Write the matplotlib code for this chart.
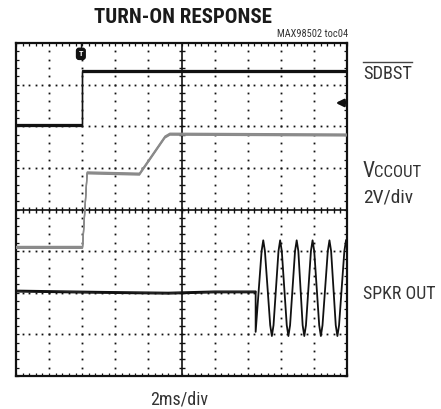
import numpy as np
import matplotlib
matplotlib.use("Agg")
import matplotlib.pyplot as plt
from matplotlib.transforms import offset_copy
from matplotlib.lines import Line2D

# ---------------- data (in screen divisions: x 0..10, y 0..8) ----------------
sdbst_x = [0.0, 1.98, 1.98, 10.0]
sdbst_y = [6.03, 6.03, 7.33, 7.33]

vcc_x = [0.0, 2.01, 2.15, 3.73, 4.50, 4.65, 10.0]
vcc_y = [3.09, 3.09, 4.88, 4.85, 5.74, 5.81, 5.79]

spkr_flat_x = [0.0, 2.5, 4.6, 6.0, 7.24]
spkr_flat_y = [2.04, 2.01, 1.99, 2.02, 2.02]

spkr_osc_x = [7.24, 7.24, 7.42, 7.47, 7.52, 7.68, 7.73, 7.78, 7.93, 7.98, 8.03,
              8.18, 8.23, 8.28, 8.43, 8.48, 8.53, 8.66, 8.71, 8.76, 8.91, 8.96,
              9.01, 9.16, 9.21, 9.26, 9.42, 9.47, 9.52, 9.66, 9.71, 9.76, 9.92, 9.97]
spkr_osc_y = [2.02, 1.06, 3.00, 3.26, 3.00, 1.22, 0.96, 1.22, 3.00, 3.26, 3.00,
              1.22, 0.96, 1.22, 3.00, 3.26, 3.00, 1.22, 0.96, 1.22, 3.00, 3.26,
              3.00, 1.22, 0.96, 1.22, 3.00, 3.26, 3.00, 1.22, 0.96, 1.22, 3.00, 3.26]

title = "TURN-ON RESPONSE"
toc_label = "MAX98502 toc04"
ch_labels = ["SDBST", "V", "CCOUT", "2V/div", "SPKR OUT"]
time_label = "2ms/div"

# ---------------- figure ----------------
W, H = 441, 409
fig = plt.figure(figsize=(W / 100, H / 100), dpi=100)
fam = ["Roboto Condensed", "DejaVu Sans"]
plt.rcParams["font.family"] = fam

L, R, T, B = 16, 347, 43, 376
ax = fig.add_axes([L / W, 1 - B / H, (R - L) / W, (B - T) / H])
ax.set_xlim(0, 10)
ax.set_ylim(0, 8)

for s in ax.spines.values():
    s.set_linewidth(1.6)
    s.set_color("#111111")

ax.set_xticks(np.arange(0, 11, 1))
ax.set_yticks(np.arange(0, 9, 1))
ax.set_xticks(np.arange(0, 10.01, 0.2), minor=True)
ax.set_yticks(np.arange(0, 8.01, 0.2), minor=True)
ax.tick_params(which="both", direction="in", top=True, right=True,
               length=2.4, width=0.9, color="#111111",
               labelbottom=False, labelleft=False)

# dotted grid
gx, gy = [], []
for xv in [1, 2, 3, 4, 6, 7, 8, 9]:
    ys = np.arange(0.2, 8.0, 0.2)
    gx += [xv] * len(ys)
    gy += list(ys)
for yv in [1, 2, 3, 5, 6, 7]:
    xs = np.arange(0.2, 10.0, 0.2)
    gx += list(xs)
    gy += [yv] * len(xs)
ax.plot(gx, gy, "s", ms=1.3, mew=0, color="#111111", zorder=1)

# centre cross with ticks
ax.axhline(4, color="#111111", lw=1.2, zorder=2)
ax.axvline(5, color="#111111", lw=1.2, zorder=2)
tx = np.arange(0.2, 10.0, 0.2)
ty = np.arange(0.2, 8.0, 0.2)
ax.plot(tx, [4] * len(tx), "|", ms=5, mew=1.0, color="#111111", zorder=2)
ax.plot([5] * len(ty), ty, "_", ms=5, mew=1.0, color="#111111", zorder=2)

# traces (thickened vertically by offset copies)
def trace(x, y, color, lw, spread):
    for dy in spread:
        tr = offset_copy(ax.transData, fig=fig, x=0, y=dy, units="points")
        ax.plot(x, y, color=color, lw=lw, transform=tr, zorder=4,
                solid_joinstyle="miter")

trace(vcc_x, vcc_y, "#8a8a8a", 0.9, [-0.7, -0.25, 0.25, 0.7])
trace(sdbst_x, sdbst_y, "#111111", 0.9, [-0.6, 0, 0.6])
trace(spkr_flat_x, spkr_flat_y, "#111111", 0.9, [-0.6, 0, 0.6])
ax.plot(spkr_osc_x, spkr_osc_y, color="#111111", lw=1.3, zorder=4,
        solid_joinstyle="round", clip_on=True)

# trigger marker
ax.plot([1.96, 1.96], [8, 7.85], color="#111111", lw=1.0, zorder=5, clip_on=False)
ax.text(1.96, 7.74, "T", color="white", fontsize=6, fontweight="bold",
        ha="center", va="center", zorder=6,
        bbox=dict(boxstyle="round,pad=0.25,rounding_size=0.3", fc="#111111", ec="#111111"))

# ground marker arrow on right edge
ax.annotate("", xy=(9.66, 6.56), xytext=(9.99, 6.56),
            arrowprops=dict(arrowstyle="-|>", color="#111111", lw=1.8,
                            mutation_scale=11, shrinkA=0, shrinkB=0), zorder=6)

# ---------------- texts ----------------
def ftext(x, y, s, **kw):
    fig.text(x / W, 1 - y / H, s, **kw)

ftext(182.5, 23, title, ha="center", va="baseline", fontsize=15,
      fontweight="black", color="#1a1a1a")
ftext(348, 37, toc_label, ha="right", va="baseline", fontsize=7.5, color="#333333")

lab_col = "#333333"
ftext(363, 79, ch_labels[0], ha="left", va="baseline", fontsize=13.2, color=lab_col)
fig.add_artist(Line2D([363 / W, 412 / W], [1 - 62 / H, 1 - 62 / H],
                      color="#444444", lw=1.0))
ftext(362.5, 177.3, ch_labels[1], ha="left", va="baseline", fontsize=15.5, color=lab_col)
ftext(374, 177.3, ch_labels[2], ha="left", va="baseline", fontsize=12.2, color=lab_col)
ftext(363, 203, ch_labels[3], ha="left", va="baseline", fontsize=14, color=lab_col)
ftext(363, 299.3, ch_labels[4], ha="left", va="baseline", fontsize=12.9, color=lab_col)
ftext(179, 405, time_label, ha="center", va="baseline", fontsize=13, color=lab_col)

fig.savefig("out.png", dpi=100)
